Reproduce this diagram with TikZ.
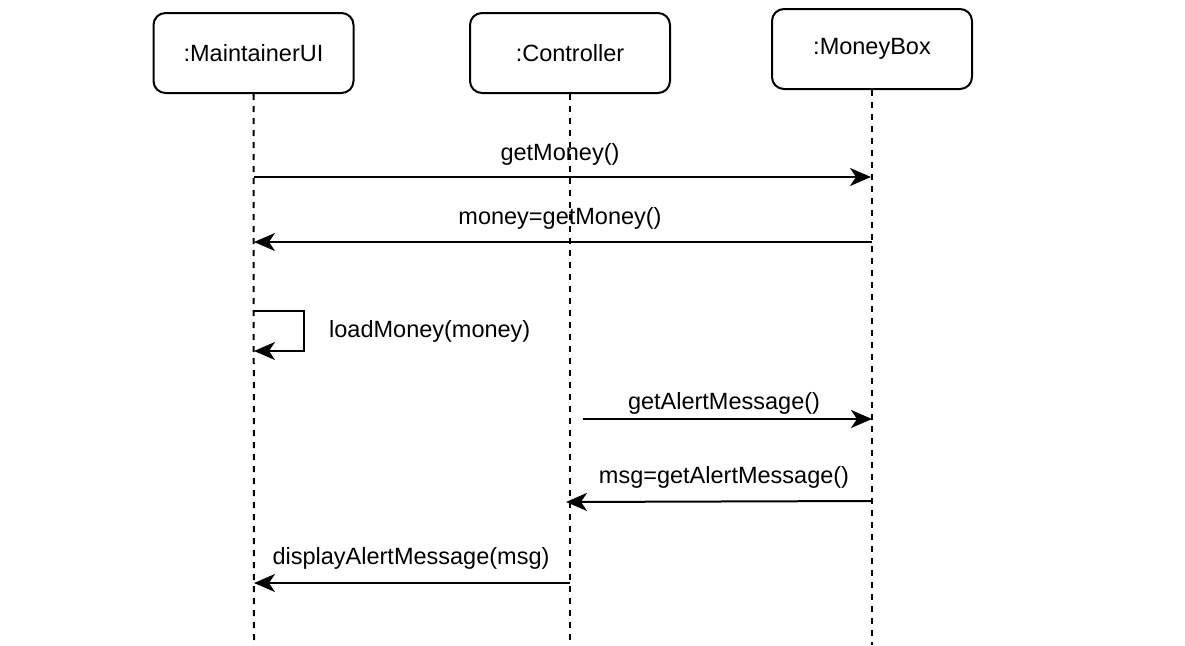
\documentclass[tikz,border=0pt]{standalone}
\usepackage{fontspec}
\setmainfont{Liberation Sans}
\usetikzlibrary{arrows.meta}
\begin{document}
\begin{tikzpicture}[x=1pt,y=-1pt,
  obj/.style={draw=black,line width=2pt,rounded corners=12pt,minimum width=200pt,minimum height=80pt,inner sep=0pt,font=\fontsize{23.5}{28}\selectfont},
  life/.style={line width=2pt,dash pattern=on 6pt off 6pt},
  msg/.style={line width=2pt,-{Stealth[length=21pt,width=18pt,inset=6pt]}},
  lbl/.style={inner sep=0pt,font=\fontsize{23.5}{28}\selectfont}]
\useasboundingbox (0,0) rectangle (1185,645);
\node[obj] (ui) at (253.5,53) {:MaintainerUI};
\node[obj] (ct) at (570,53) {:Controller};
\node[obj] (mb) at (872,49) {:MoneyBox};
\coordinate (uiE) at (254,640);
\coordinate (ctE) at (570,640);
\coordinate (mbE) at (872,645);
\draw[life] (ui.south) -- (uiE);
\draw[life] (ct.south) -- (ctE);
\draw[life] (mb.south) -- (mbE);
% messages
\coordinate (m1a) at (254,177); \coordinate (m1b) at (871,177);
\draw[msg] (m1a) -- (m1b);
\node[lbl] (l1) at (560,154) {getMoney()};
\coordinate (m2a) at (872,242); \coordinate (m2b) at (254,242);
\draw[msg] (m2a) -- (m2b);
\node[lbl] (l2) at (560,218) {money=getMoney()};
\coordinate (m3a) at (254,311); \coordinate (m3b) at (254,351);
\draw[msg] (m3a) -- ++(50,0) |- (m3b);
\node[lbl,anchor=west] (l3) at (329,331) {loadMoney(money)};
\coordinate (m4a) at (583,419); \coordinate (m4b) at (872,419);
\draw[msg] (m4a) -- (m4b);
\node[lbl] (l4) at (724,403) {getAlertMessage()};
\coordinate (m5a) at (872,501); \coordinate (m5b) at (566,502);
\draw[msg] (m5a) -- (m5b);
\node[lbl] (l5) at (724,477) {msg=getAlertMessage()};
\coordinate (m6a) at (570,583); \coordinate (m6b) at (254,583);
\draw[msg] (m6a) -- (m6b);
\node[lbl] (l6) at (411,558) {displayAlertMessage(msg)};
\end{tikzpicture}
\end{document}
